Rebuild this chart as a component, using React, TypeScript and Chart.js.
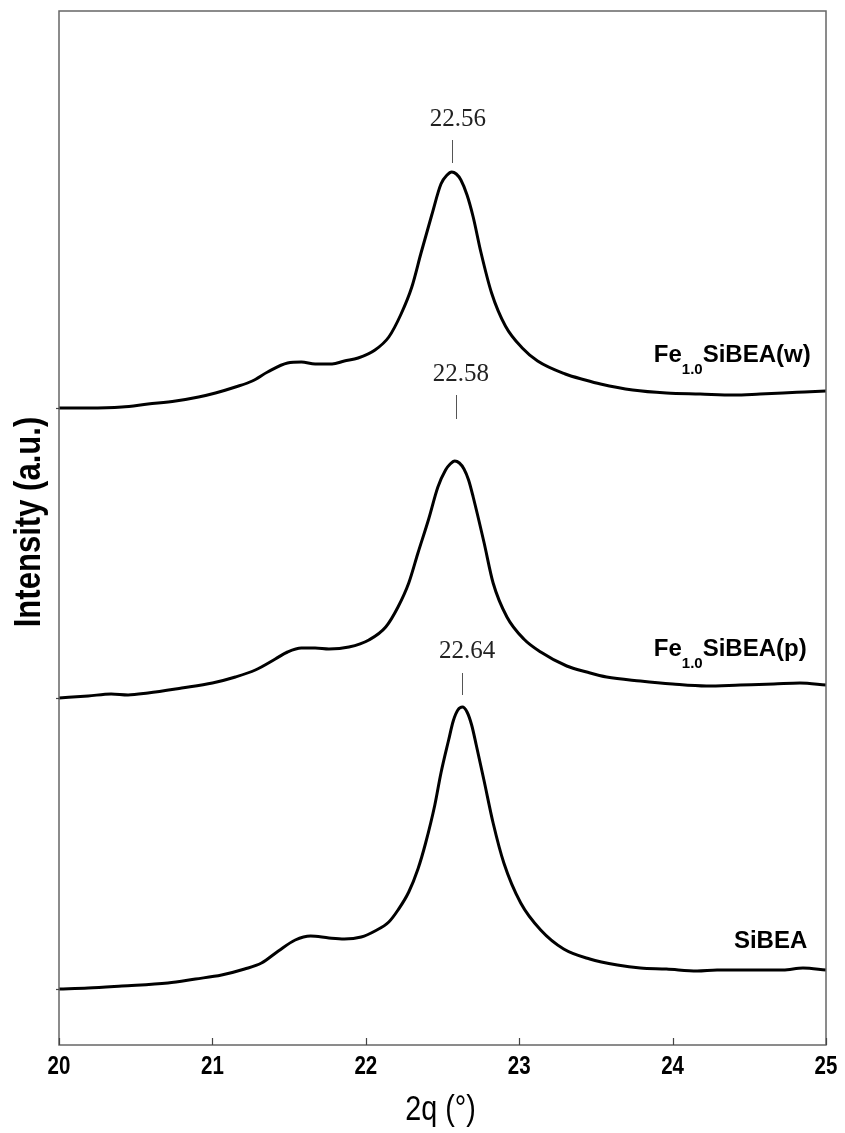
import React, { useEffect, useRef } from "react";
import { Chart, registerables } from "chart.js";

Chart.register(...registerables);

// ---------- data (2θ in degrees, intensity in arbitrary units) ----------
const twoThetaW = [20.0, 20.19, 20.41, 20.58, 20.76, 20.91, 21.02, 21.15, 21.26, 21.36, 21.49, 21.58, 21.67, 21.78, 21.86, 21.95, 22.06, 22.15, 22.23, 22.3, 22.36, 22.43, 22.49, 22.53, 22.56, 22.59, 22.62, 22.66, 22.7, 22.75, 22.82, 22.91, 23.02, 23.12, 23.3, 23.43, 23.53, 23.74, 23.96, 24.18, 24.4, 24.57, 24.72, 24.86, 25.0];
const intensityW = [637, 637, 638, 641, 644, 648, 652, 658, 664, 673, 682, 683, 681, 681, 684, 687, 695, 708, 731, 758, 792, 830, 861, 870, 873, 871, 865, 850, 828, 793, 752, 719, 697, 684, 671, 665, 661, 655, 652, 651, 650, 651, 652, 653, 654];

const twoThetaP = [20.0, 20.19, 20.34, 20.45, 20.58, 20.8, 21.0, 21.15, 21.28, 21.41, 21.49, 21.58, 21.67, 21.76, 21.89, 22.02, 22.13, 22.21, 22.28, 22.34, 22.41, 22.47, 22.52, 22.55, 22.58, 22.61, 22.64, 22.67, 22.7, 22.77, 22.83, 22.92, 23.03, 23.14, 23.31, 23.44, 23.57, 23.79, 24.0, 24.22, 24.44, 24.66, 24.83, 25.0];
const intensityP = [347, 349, 351, 350, 352, 357, 362, 368, 375, 386, 393, 397, 397, 396, 398, 405, 418, 438, 462, 492, 526, 558, 575, 581, 584, 582, 576, 565, 548, 503, 462, 428, 406, 393, 379, 373, 368, 364, 361, 359, 360, 361, 362, 360];

const twoThetaS = [20.0, 20.19, 20.41, 20.71, 20.89, 21.06, 21.21, 21.32, 21.43, 21.54, 21.64, 21.76, 21.86, 21.97, 22.06, 22.15, 22.21, 22.28, 22.34, 22.39, 22.45, 22.49, 22.54, 22.57, 22.6, 22.63, 22.66, 22.69, 22.72, 22.77, 22.83, 22.9, 23.01, 23.14, 23.29, 23.46, 23.64, 23.79, 23.96, 24.16, 24.29, 24.55, 24.72, 24.85, 25.0];
const intensityS = [56, 57, 59, 62, 66, 70, 76, 82, 94, 105, 109, 107, 106, 108, 114, 123, 135, 153, 176, 202, 240, 272, 305, 324, 335, 338, 333, 320, 300, 265, 222, 182, 142, 115, 96, 86, 80, 77, 76, 74, 75, 75, 75, 77, 75];

const xTickValues = [20, 21, 22, 23, 24, 25];
const xTickLabels = ["20", "21", "22", "23", "24", "25"];
const yTickValues = [56, 347, 637];

const peakLabels = ["22.56", "22.58", "22.64"];
const peakTickX = [22.56, 22.585, 22.63];
const peakTickTop = [905, 650, 372];
const peakTickBottom = [882, 626, 350];
const peakTextX = [22.6, 22.62, 22.66];
const peakTextY = [919, 664, 387];

const labelPrefix = ["Fe", "Fe", ""];
const labelSub = ["1.0", "1.0", ""];
const labelMain = ["SiBEA(w)", "SiBEA(p)", "SiBEA"];
const labelRightX = [24.9, 24.874, 24.878];
const labelBaseY = [683, 389, 97];

const xTitle = "2q (°)";
const yTitle = "Intensity (a.u.)";

const toPoints = (xs: number[], ys: number[]) => xs.map((x, i) => ({ x, y: ys[i] }));

const SANS = '"Liberation Sans", Arial, sans-serif';
const SERIF = '"Liberation Serif", "Times New Roman", serif';

function narrowText(ctx: CanvasRenderingContext2D, text: string, x: number, y: number, font: string, align: CanvasTextAlign, sx = 0.82) {
  ctx.save();
  ctx.translate(x, y);
  ctx.scale(sx, 1);
  ctx.font = font;
  ctx.textAlign = align;
  ctx.textBaseline = "alphabetic";
  ctx.fillText(text, 0, 0);
  ctx.restore();
}

const overlayPlugin = {
  id: "overlay",
  afterDatasetsDraw(chart: any) {
    const { ctx, chartArea: a, scales } = chart;
    const xs = scales.x;
    const ys = scales.y;
    ctx.save();
    // frame
    ctx.strokeStyle = "#666";
    ctx.lineWidth = 1.5;
    ctx.strokeRect(a.left, a.top, a.right - a.left, a.bottom - a.top);
    // x tick marks (inward)
    ctx.strokeStyle = "#444";
    ctx.lineWidth = 1.2;
    xTickValues.forEach((v) => {
      const px = Math.round(xs.getPixelForValue(v)) + 0.5;
      ctx.beginPath();
      ctx.moveTo(px, a.bottom);
      ctx.lineTo(px, a.bottom - 7);
      ctx.stroke();
    });
    // y tick marks (outward, short)
    yTickValues.forEach((v) => {
      const py = Math.round(ys.getPixelForValue(v)) + 0.5;
      ctx.beginPath();
      ctx.moveTo(a.left - 3, py);
      ctx.lineTo(a.left, py);
      ctx.stroke();
    });
    // x tick labels
    ctx.fillStyle = "#000";
    xTickValues.forEach((v, i) => {
      const px = xs.getPixelForValue(v);
      narrowText(ctx, xTickLabels[i], px, a.bottom + 29, `bold 25px ${SANS}`, "center");
    });
    // axis titles
    narrowText(ctx, xTitle, (a.left + a.right) / 2 - 2, a.bottom + 75, `35px ${SANS}`, "center");
    ctx.save();
    ctx.translate(40, (a.top + a.bottom) / 2 - 6);
    ctx.rotate(-Math.PI / 2);
    narrowText(ctx, yTitle, 0, 0, `bold 37px ${SANS}`, "center", 0.84);
    ctx.restore();

    // peak annotations
    peakLabels.forEach((t, i) => {
      const px = Math.round(xs.getPixelForValue(peakTickX[i])) + 0.5;
      ctx.strokeStyle = "#555";
      ctx.lineWidth = 1;
      ctx.beginPath();
      ctx.moveTo(px, ys.getPixelForValue(peakTickTop[i]));
      ctx.lineTo(px, ys.getPixelForValue(peakTickBottom[i]));
      ctx.stroke();
      ctx.fillStyle = "#222";
      ctx.font = `25px ${SERIF}`;
      ctx.textAlign = "center";
      ctx.textBaseline = "alphabetic";
      ctx.fillText(t, xs.getPixelForValue(peakTextX[i]), ys.getPixelForValue(peakTextY[i]));
    });

    // series labels
    ctx.fillStyle = "#000";
    labelMain.forEach((m, i) => {
      const right = xs.getPixelForValue(labelRightX[i]);
      const base = ys.getPixelForValue(labelBaseY[i]);
      const mainFont = `bold 24px ${SANS}`;
      const subFont = `bold 15px ${SANS}`;
      ctx.textBaseline = "alphabetic";
      ctx.textAlign = "left";
      ctx.font = mainFont;
      const wMain = ctx.measureText(m).width;
      const wPre = ctx.measureText(labelPrefix[i]).width;
      ctx.font = subFont;
      const wSub = ctx.measureText(labelSub[i]).width;
      let x0 = right - wMain - wSub - wPre;
      ctx.font = mainFont;
      ctx.fillText(labelPrefix[i], x0, base);
      x0 += wPre;
      ctx.font = subFont;
      ctx.fillText(labelSub[i], x0, base + 12);
      x0 += wSub;
      ctx.font = mainFont;
      ctx.fillText(m, x0, base);
    });
    ctx.restore();
  },
};

export default function App() {
  const canvasRef = useRef<HTMLCanvasElement | null>(null);

  useEffect(() => {
    if (!canvasRef.current) return;
    const ds = (label: string, xs: number[], ys: number[]) => ({
      label,
      data: toPoints(xs, ys),
      borderColor: "#000",
      borderWidth: 3,
      pointRadius: 0,
      fill: false,
      cubicInterpolationMode: "monotone" as const,
    });
    const chart = new Chart(canvasRef.current, {
      type: "line",
      data: {
        datasets: [
          ds("Fe1.0SiBEA(w)", twoThetaW, intensityW),
          ds("Fe1.0SiBEA(p)", twoThetaP, intensityP),
          ds("SiBEA", twoThetaS, intensityS),
        ],
      },
      options: {
        animation: false,
        responsive: false,
        layout: { padding: { left: 59, right: 19, top: 11, bottom: 0 } },
        plugins: { legend: { display: false }, tooltip: { enabled: false } },
        scales: {
          x: {
            type: "linear",
            min: 20,
            max: 25,
            ticks: { display: false, stepSize: 1 },
            grid: { display: false, drawTicks: false },
            border: { display: false },
            afterFit: (s: any) => {
              s.height = 88;
            },
          },
          y: {
            type: "linear",
            min: 0,
            max: 1034,
            display: false,
          },
        },
      },
      plugins: [overlayPlugin],
    });
    return () => chart.destroy();
  }, []);

  return (
    <div style={{ position: "absolute", left: 0, top: 0, width: 845, height: 1133, background: "#fff" }}>
      <canvas ref={canvasRef} width={845} height={1133} />
    </div>
  );
}
